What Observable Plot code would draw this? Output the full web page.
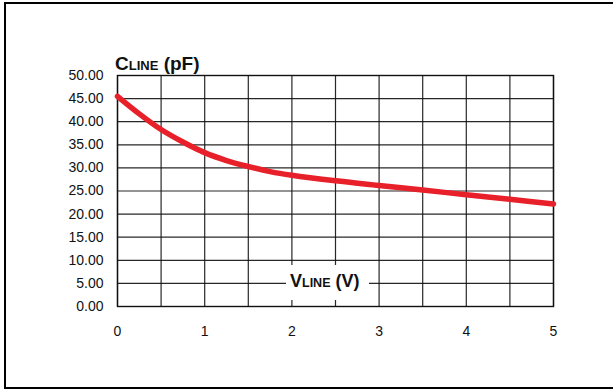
<!DOCTYPE html>
<html>
<head>
<meta charset="utf-8">
<script src="https://cdn.jsdelivr.net/npm/d3@7"></script>
<script src="https://cdn.jsdelivr.net/npm/@observablehq/plot@0.6"></script>
<style>
  html, body { margin: 0; padding: 0; background: #fff; overflow: hidden; }
  #wrap { position: relative; width: 613px; height: 390px; overflow: hidden; }
  #border { position: absolute; left: 4px; top: 2px; width: 800px; height: 383px;
            border-left: 2px solid #000; border-top: 2px solid #000; border-bottom: 2px solid #000; }
  #chart { position: absolute; left: 0; top: 0; }
</style>
</head>
<body>
<div id="wrap"><div id="border"></div><div id="chart"></div></div>
<script>
const voltage = [0, 0.25, 0.5, 0.75, 1, 1.25, 1.5, 1.75, 2, 2.5, 3, 3.5, 4, 4.5, 5];
const capacitance = [45.5, 41.7, 38.3, 35.6, 33.3, 31.6, 30.3, 29.2, 28.4, 27.2, 26.2, 25.2, 24.2, 23.2, 22.2];
const xTicks = [0, 1, 2, 3, 4, 5];
const xGrid = [0, 0.5, 1, 1.5, 2, 2.5, 3, 3.5, 4, 4.5, 5];
const yTicks = [0, 5, 10, 15, 20, 25, 30, 35, 40, 45, 50];

const data = voltage.map((v, i) => ({v, c: capacitance[i]}));

const plot = Plot.plot({
  width: 613,
  height: 390,
  marginLeft: 117,
  marginRight: 60,
  marginTop: 75,
  marginBottom: 84,
  style: {fontFamily: "'Liberation Sans', Arial, sans-serif", fontSize: "14px", color: "#111", background: "transparent", overflow: "visible"},
  x: {domain: [0, 5]},
  y: {domain: [0, 50]},
  marks: [
    Plot.gridX(xGrid, {stroke: "#111", strokeOpacity: 0.9, strokeWidth: 1.2}),
    Plot.gridY(yTicks, {stroke: "#111", strokeOpacity: 0.9, strokeWidth: 1.2}),
    Plot.frame({stroke: "#111", strokeWidth: 1.4}),
    Plot.axisX(xTicks, {tickSize: 0, tickPadding: 20, label: null, tickFormat: d3.format("d")}),
    Plot.axisY(yTicks, {tickSize: 0, tickPadding: 14, label: null, tickFormat: d3.format(".2f")}),
    Plot.line(data, {x: "v", y: "c", stroke: "#e8202a", strokeWidth: 5.5, curve: "catmull-rom"})
  ]
});
document.getElementById("chart").appendChild(plot);

const svg = d3.select(plot);
const font = "'Liberation Sans', Arial, sans-serif";
// y-axis title
const t1 = svg.append("text").attr("x", 115).attr("y", 70).attr("text-anchor", "start")
  .attr("font-family", font).attr("font-weight", "bold").attr("fill", "#111");
t1.append("tspan").attr("font-size", 19).text("C");
t1.append("tspan").attr("font-size", 13).text("LINE");
t1.append("tspan").attr("font-size", 19).text(" (pF)");
// x-axis title inside plot with white background
svg.append("rect").attr("x", 286).attr("y", 265).attr("width", 83).attr("height", 35).attr("fill", "#fff");
const t2 = svg.append("text").attr("x", 290).attr("y", 287).attr("text-anchor", "start")
  .attr("font-family", font).attr("font-weight", "bold").attr("fill", "#111");
t2.append("tspan").attr("font-size", 18).text("V");
t2.append("tspan").attr("font-size", 12.5).text("LINE");
t2.append("tspan").attr("font-size", 18).text(" (V)");
</script>
</body>
</html>
